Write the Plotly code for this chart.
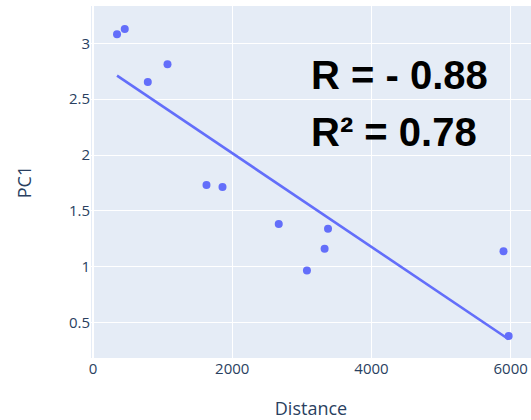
import numpy as np
import plotly.graph_objects as go

# Data
distance = [345, 456, 787, 1070, 1630, 1860, 2668, 3073, 3327, 3376, 5897, 5971]
pc1 = [3.08, 3.128, 2.654, 2.812, 1.731, 1.713, 1.383, 0.967, 1.162, 1.34, 1.138, 0.379]
stats_lines = ["R = - 0.88", "R\u00b2 = 0.78"]

x = np.array(distance, dtype=float)
y = np.array(pc1, dtype=float)
slope, intercept = np.polyfit(x, y, 1)
order = np.argsort(x)
x_fit = x[order]
y_fit = slope * x_fit + intercept

fig = go.Figure()
fig.add_trace(go.Scatter(x=distance, y=pc1, mode="markers",
                         marker=dict(color="#636efa", size=8), showlegend=False))
fig.add_trace(go.Scatter(x=x_fit, y=y_fit, mode="lines",
                         line=dict(color="#636efa", width=2.6), showlegend=False))

fig.update_layout(
    template="plotly",
    width=531, height=420,
    margin=dict(l=91, r=0, t=6, b=62),
    font=dict(family="Open Sans", size=15, color="#2a3f5f"),
    xaxis=dict(title=dict(text="Distance", font=dict(size=18), standoff=26),
               range=[-29, 6292], dtick=2000, tick0=0, automargin=False),
    yaxis=dict(title=dict(text="PC1", font=dict(size=18), standoff=32),
               range=[0.183, 3.334], dtick=0.5, tick0=0, automargin=False),
)

ys = [0.804, 0.643]
for txt, yy in zip(stats_lines, ys):
    fig.add_annotation(text="<b>" + txt + "</b>", xref="paper", yref="paper",
                       x=0.495, y=yy, xanchor="left", yanchor="middle", showarrow=False,
                       font=dict(family="Liberation Sans", size=40, color="black"))

fig.write_html("out.html")
